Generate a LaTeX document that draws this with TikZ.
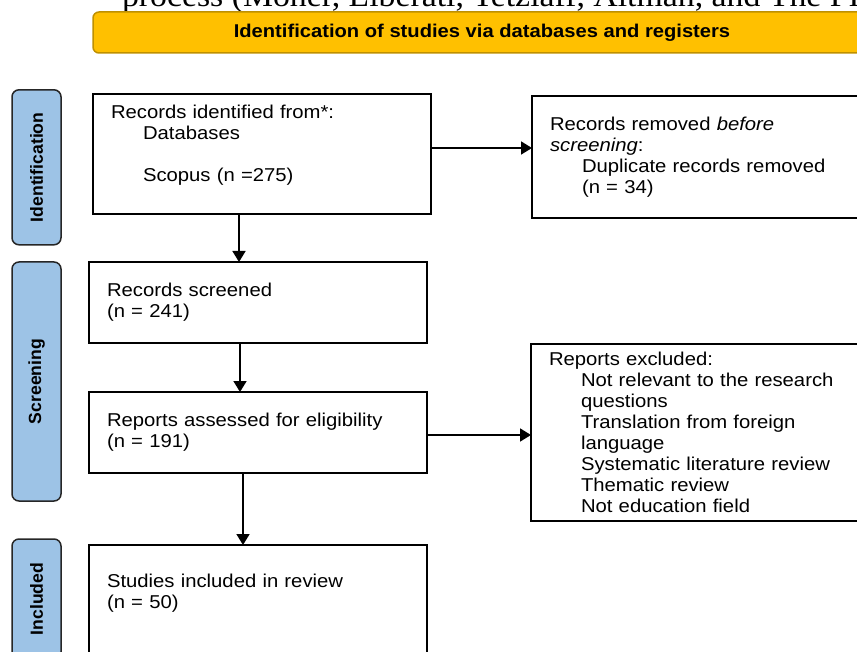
\documentclass[tikz,border=0pt]{standalone}
\usepackage{fontspec}
\setmainfont{Liberation Sans}[FakeStretch=1.09]
\newfontfamily\stagefont{Liberation Sans}
\newfontfamily\citefont{Liberation Serif}[FakeStretch=1.09]
\usetikzlibrary{arrows.meta,positioning}

\definecolor{headgold}{HTML}{FFC000}
\definecolor{headedge}{HTML}{BF9000}
\definecolor{stageblue}{HTML}{9DC3E6}

\newcommand{\prismaindent}{\hspace*{32pt}}

\begin{document}
\begin{tikzpicture}[
        x=1pt, y=-1pt,
        every node/.style={inner sep=0pt, outer sep=0pt},
        header/.style={draw=headedge, fill=headgold, line width=1.5pt, rounded corners=6pt,
            minimum width=778pt, minimum height=41pt, anchor=north west,
            font=\fontsize{18.5}{22}\selectfont\bfseries},
        stage/.style={draw=black!85, fill=stageblue, line width=1.5pt, rounded corners=7pt,
            rotate=90, minimum height=49pt, font=\stagefont\fontsize{17.6}{20}\selectfont\bfseries},
        box/.style={draw, line width=2.3pt, anchor=north west, align=left,
            text width=302pt, inner xsep=18pt, font=\fontsize{18.6}{20.9}\selectfont},
        arr/.style={line width=1.7pt, -{Triangle[length=11pt, width=13pt]}}
    ]
    \path[use as bounding box, clip] (0,0) rectangle (857,652);

    % cut-off line of the running text above the figure
    \node[anchor=base west, font=\citefont\fontsize{31}{31}\selectfont] (citeline) at (122,7)
        {process (Moher, Liberati, Tetzlaff, Altman, and The PRISMA Group, 2009)};

    \node[header] (head) at (93,12) {Identification of studies via databases and registers};

    % stages
    \node[stage, minimum width=155pt] (identification) at (36.5,167.3) {Identification};
    \node[stage, minimum width=239pt] (screening) at (36.5,381.5) {Screening};
    \node[stage, minimum width=120pt] (included) at (36.5,599) {Included};

    % boxes
    \node[box, minimum height=120pt] (records) at (93,94) {
        Records identified from*:\\
        \prismaindent Databases\\
        \mbox{}\\
        \prismaindent Scopus (n =275)\\
        \mbox{}
    };
    \node[box, minimum height=122pt] (removed) at (532,96) {
        Records removed \textit{before}\\
        \textit{screening}:\\
        \prismaindent Duplicate records removed\\
        \prismaindent (n = 34)
    };
    \node[box, minimum height=81pt] (screened) at (89,262) {
        Records screened\\
        (n = 241)
    };
    \node[box, minimum height=81pt] (assessed) at (89,392) {
        Reports assessed for eligibility\\
        (n = 191)
    };
    \node[box, minimum height=177pt] (excluded) at (531,344) {
        Reports excluded:\\
        \prismaindent Not relevant to the research\\
        \prismaindent questions\\
        \prismaindent Translation from foreign\\
        \prismaindent language\\
        \prismaindent Systematic literature review\\
        \prismaindent Thematic review\\
        \prismaindent Not education field
    };
    \node[box, minimum height=134pt] (studies) at (89,545) {
        Studies included in review\\
        (n = 50)\\
        \mbox{}\\
        \mbox{}
    };

    % arrows
    \draw[arr] ([xshift=-23pt]records.south) -- ([xshift=-23pt]records.south |- screened.north);
    \draw[arr] ([xshift=-18pt]screened.south) -- ([xshift=-18pt]screened.south |- assessed.north);
    \draw[arr] ([xshift=-15pt]assessed.south) -- ([xshift=-15pt]assessed.south |- studies.north);
    \draw[arr] ([yshift=6pt]records.east) -- ([yshift=6pt]records.east -| removed.west);
    \draw[arr] ([yshift=-2.5pt]assessed.east) -- ([yshift=-2.5pt]assessed.east -| excluded.west);
\end{tikzpicture}
\end{document}
